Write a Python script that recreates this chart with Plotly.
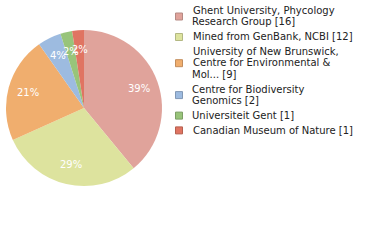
import math
import plotly.graph_objects as go

labels = [
    "Ghent University, Phycology<br>Research Group [16]",
    "Mined from GenBank, NCBI [12]",
    "University of New Brunswick,<br>Centre for Environmental &amp;<br>Mol... [9]",
    "Centre for Biodiversity<br>Genomics [2]",
    "Universiteit Gent [1]",
    "Canadian Museum of Nature [1]",
]
values = [16, 12, 9, 2, 1, 1]
colors = ["#e0a39b", "#dde39e", "#f0ae6e", "#9dbbe0", "#98c47a", "#e07462"]
border_colors = ["#b58a84", "#b3b883", "#c28d5c", "#8198b5", "#7d9e66", "#b5604f"]

total = sum(values)
pct_text = [f"{math.floor(v * 100 / total)}%" for v in values]

W, H = 380, 240
# pie geometry (layout)
pie_x0, pie_x1 = 6, 162
pie_y0, pie_y1 = 30, 186
cx, cy_pie = (pie_x0 + pie_x1) / 2, (pie_y0 + pie_y1) / 2
radius = (pie_x1 - pie_x0) / 2
label_r = 0.75 * radius

fig = go.Figure(go.Pie(
    labels=labels,
    values=values,
    text=pct_text,
    textinfo="none",
    hoverinfo="label+value+percent",
    insidetextorientation="horizontal",
    marker=dict(colors=colors, line=dict(width=0)),
    sort=False,
    direction="clockwise",
    rotation=0,
    showlegend=False,
    domain=dict(x=[pie_x0 / W, pie_x1 / W], y=[1 - pie_y1 / H, 1 - pie_y0 / H]),
))

annotations = []
shapes = []

# percentage labels at 3/4 radius on each slice's mid angle
cum = 0
for v, t in zip(values, pct_text):
    mid = (cum + v / 2) / total * 2 * math.pi
    cum += v
    px = cx + label_r * math.sin(mid)
    py = cy_pie - label_r * math.cos(mid)
    annotations.append(dict(
        x=px / W, y=1 - py / H, xref="paper", yref="paper",
        xanchor="center", yanchor="middle", showarrow=False,
        text=t, font=dict(family="DejaVu Sans", size=10, color="white"),
    ))

# Manual legend (layout: pixel positions)
line_h = 11.4
entry_gap = 3.4
marker_size = 7
marker_x = 175.5
text_x = 190.5
y = 10.4
for lab, fill, edge in zip(labels, colors, border_colors):
    lines = lab.split("<br>")
    first = y
    for ln in lines:
        annotations.append(dict(
            x=text_x / W, y=1 - y / H, xref="paper", yref="paper",
            xanchor="left", yanchor="middle", showarrow=False,
            text=ln, font=dict(family="DejaVu Sans", size=10, color="#222222"),
        ))
        y += line_h
    last = y - line_h
    my = (first + last) / 2 + 0.4
    shapes.append(dict(
        type="rect", xref="paper", yref="paper",
        x0=marker_x / W, x1=(marker_x + marker_size) / W,
        y0=1 - (my - marker_size / 2) / H, y1=1 - (my + marker_size / 2) / H,
        fillcolor=fill, line=dict(color=edge, width=1),
    ))
    y += entry_gap

fig.update_layout(
    width=W, height=H,
    margin=dict(l=0, r=0, t=0, b=0),
    paper_bgcolor="white",
    plot_bgcolor="white",
    shapes=shapes,
    annotations=annotations,
)

fig.write_html("out.html")
